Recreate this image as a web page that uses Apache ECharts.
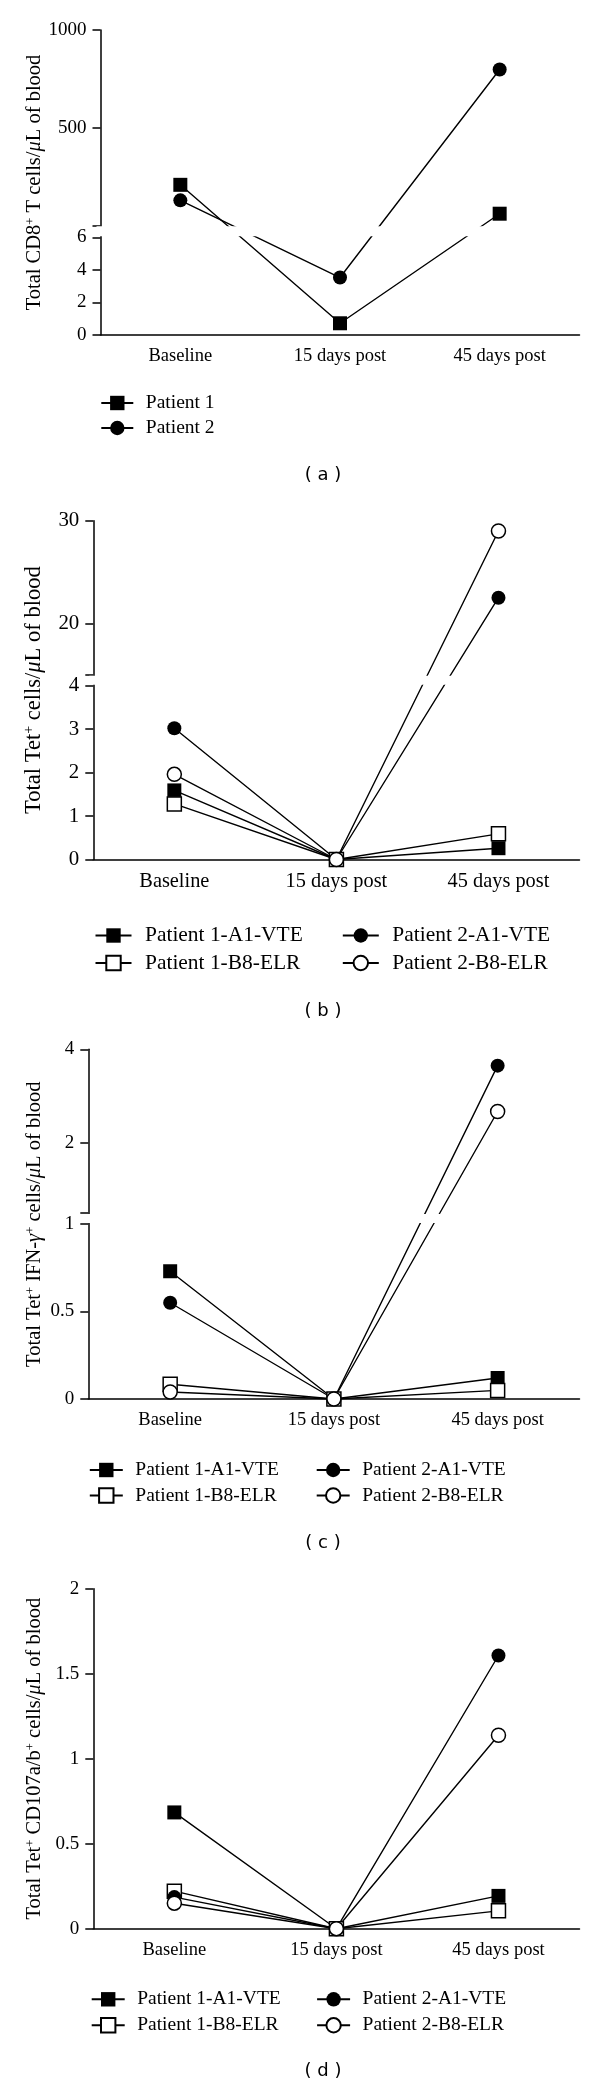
<!DOCTYPE html>
<html><head><meta charset="utf-8">
<script src="https://cdn.jsdelivr.net/npm/echarts@6/dist/echarts.min.js"></script>
<style>html,body{margin:0;padding:0;background:#fff}#c{width:600px;height:2087px}</style>
</head><body><div id="c"></div>
<script>
// ---------- data ----------
const categories = ['Baseline', '15 days post', '45 days post'];

// (a) Total CD8+ T cells/μL of blood
const aPatient1 = [212, 0.72, 65];
const aPatient2 = [133, 3.53, 799];
const aTickValues = [0, 2, 4, 6, 500, 1000];

// (b) Total Tet+ cells/μL of blood
const bP1A1 = [1.59, 0, 0.26];
const bP1B8 = [1.28, 0, 0.59];
const bP2A1 = [3.02, 0, 22.5];
const bP2B8 = [1.96, 0, 29.0];
const bTickValues = [0, 1, 2, 3, 4, 20, 30];

// (c) Total Tet+ IFN-γ+ cells/μL of blood
const cP1A1 = [0.73, 0, 0.12];
const cP1B8 = [0.084, 0, 0.049];
const cP2A1 = [0.55, 0, 3.65];
const cP2B8 = [0.04, 0, 2.67];
const cTickValues = [0, 0.5, 1, 2, 4];

// (d) Total Tet+ CD107a/b+ cells/μL of blood
const dP1A1 = [0.684, 0, 0.193];
const dP1B8 = [0.221, 0, 0.105];
const dP2A1 = [0.186, 0, 1.607];
const dP2B8 = [0.15, 0, 1.138];
const dTickValues = [0, 0.5, 1, 1.5, 2];

const namesAB = ['Patient 1', 'Patient 2'];
const names4 = ['Patient 1-A1-VTE', 'Patient 1-B8-ELR', 'Patient 2-A1-VTE', 'Patient 2-B8-ELR'];

// ---------- layout (axis segments map value ranges onto stretches of the axis) ----------
const RIGHT = 579.5;
const panels = [
  { left: 100.5, top: 30, height: 305, fs: 1,
    segs: [{ from: 0, to: 6, d0: 0, d1: 97.7 }, { from: 6, to: 1000, d0: 109.7, d1: 305 }],
    ticks: aTickValues, nameGap: 55,
    name: '{t|Total CD8}{s|+}{t| T cells/}{i|μ}{t|L of blood}',
    series: [
      { name: namesAB[0], data: aPatient1, symbol: 'rect', open: false },
      { name: namesAB[1], data: aPatient2, symbol: 'circle', open: false }
    ],
    legends: [{ left: 100.3, names: namesAB }], legendTop: 403, legendGap: 25, iconW: 32, textGap: 7.5,
    caption: '( a )', captionY: 475 },
  { left: 93.3, top: 520.7, height: 338.8, fs: 1.1,
    segs: [{ from: 0, to: 4, d0: 0, d1: 173.8 }, { from: 15, to: 30, d0: 184.8, d1: 338.8 }],
    ticks: bTickValues, nameGap: 48,
    name: '{t|Total Tet}{s|+}{t| cells/}{i|μ}{t|L of blood}',
    series: [
      { name: names4[0], data: bP1A1, symbol: 'rect', open: false },
      { name: names4[1], data: bP1B8, symbol: 'rect', open: true },
      { name: names4[2], data: bP2A1, symbol: 'circle', open: false },
      { name: names4[3], data: bP2B8, symbol: 'circle', open: true }
    ],
    legends: [{ left: 94.5, names: [names4[0], names4[1]] }, { left: 341.8, names: [names4[2], names4[3]] }],
    legendTop: 935.5, legendGap: 27.5, iconW: 36, textGap: 8.5, caption: '( b )', captionY: 1011.7 },
  { left: 88.3, top: 1049.3, height: 349.7, fs: 1,
    segs: [{ from: 0, to: 1, d0: 0, d1: 175 }, { from: 0.5, to: 4, d0: 186, d1: 349.7 }],
    ticks: cTickValues, nameGap: 43,
    name: '{t|Total Tet}{s|+}{t| IFN-}{i|γ}{s|+}{t| cells/}{i|μ}{t|L of blood}',
    series: [
      { name: names4[0], data: cP1A1, symbol: 'rect', open: false },
      { name: names4[1], data: cP1B8, symbol: 'rect', open: true },
      { name: names4[2], data: cP2A1, symbol: 'circle', open: false },
      { name: names4[3], data: cP2B8, symbol: 'circle', open: true }
    ],
    legends: [{ left: 88.8, names: [names4[0], names4[1]] }, { left: 315.7, names: [names4[2], names4[3]] }],
    legendTop: 1470, legendGap: 25.5, iconW: 33, textGap: 7.5, caption: '( c )', captionY: 1543 },
  { left: 93.3, top: 1588.7, height: 340, fs: 1,
    segs: [{ from: 0, to: 2, d0: 0, d1: 340 }],
    ticks: dTickValues, nameGap: 48,
    name: '{t|Total Tet}{s|+}{t| CD107a/b}{s|+}{t| cells/}{i|μ}{t|L of blood}',
    series: [
      { name: names4[0], data: dP1A1, symbol: 'rect', open: false },
      { name: names4[1], data: dP1B8, symbol: 'rect', open: true },
      { name: names4[2], data: dP2A1, symbol: 'circle', open: false },
      { name: names4[3], data: dP2B8, symbol: 'circle', open: true }
    ],
    legends: [{ left: 90.7, names: [names4[0], names4[1]] }, { left: 316.1, names: [names4[2], names4[3]] }],
    legendTop: 1999.3, legendGap: 26, iconW: 33, textGap: 7.5, caption: '( d )', captionY: 2071.7 }
];

function toDisp(p, v) {
  const s = (p.segs.length === 1 || v <= p.segs[0].to) ? p.segs[0] : p.segs[1];
  return s.d0 + (v - s.from) / (s.to - s.from) * (s.d1 - s.d0);
}

const SERIF = '"Liberation Serif", "Times New Roman", serif';
const grids = [], xAxes = [], yAxes = [], series = [], legends = [], graphics = [];

panels.forEach((p, i) => {
  const fs = p.fs;
  const titleSize = 20.5 * fs, tickSize = 19 * fs, catSize = 18.5 * fs, legSize = 19.5 * fs;
  grids.push({ left: p.left, top: p.top, width: RIGHT - p.left, height: p.height, containLabel: false });
  xAxes.push({
    type: 'category', gridIndex: i, data: categories, boundaryGap: true,
    axisLine: { lineStyle: { color: '#000', width: 1.5 } },
    axisTick: { alignWithLabel: true, length: 8, lineStyle: { color: '#000', width: 1.5 } },
    axisLabel: { color: '#000', fontFamily: SERIF, fontSize: catSize, margin: 12 },
    splitLine: { show: false }
  });
  const labelMap = p.ticks.map(v => ({ d: toDisp(p, v), v }));
  const tickDisp = labelMap.map(o => o.d);
  if (p.segs.length > 1) tickDisp.push(p.segs[1].d0);
  yAxes.push({
    type: 'value', gridIndex: i, min: 0, max: p.height,
    name: p.name, nameLocation: 'middle', nameRotate: 90, nameGap: p.nameGap, nameMoveOverlap: false,
    nameTextStyle: {
      color: '#000', fontFamily: SERIF, fontSize: titleSize,
      rich: {
        t: { fontFamily: SERIF, fontSize: titleSize, color: '#000' },
        s: { fontFamily: SERIF, fontSize: titleSize * 0.62, color: '#000', verticalAlign: 'top', lineHeight: titleSize * 0.62 },
        i: { fontFamily: SERIF, fontSize: titleSize, color: '#000', fontStyle: 'italic' }
      }
    },
    axisLine: { show: true, lineStyle: { color: '#000', width: 1.5 } },
    axisTick: { show: true, length: 8, customValues: tickDisp, lineStyle: { color: '#000', width: 1.5 } },
    axisLabel: {
      color: '#000', fontFamily: SERIF, fontSize: tickSize, margin: 14,
      customValues: labelMap.map(o => o.d),
      formatter: val => {
        const hit = labelMap.find(o => Math.abs(o.d - val) < 1e-6);
        return hit ? String(hit.v) : '';
      }
    },
    splitLine: { show: false }
  });
  p.series.forEach(s => {
    series.push({
      type: 'line', name: s.name, xAxisIndex: i, yAxisIndex: i, clip: false,
      data: s.data.map(v => toDisp(p, v)),
      symbol: s.symbol, symbolSize: 14, z: 2,
      lineStyle: { color: '#000', width: 1.4 },
      itemStyle: { color: s.open ? '#fff' : '#000', borderColor: '#000', borderWidth: s.open ? 1.5 : 0 },
      emphasis: { disabled: true }, animation: false
    });
  });
  if (p.segs.length > 1) {
    series.push({
      type: 'custom', name: 'break' + i, xAxisIndex: i, yAxisIndex: i, z: 5, silent: true, clip: false,
      data: [[0, p.segs[0].d1, p.segs[1].d0]],
      renderItem: (params, api) => {
        const cs = params.coordSys;
        const yTop = api.coord([0, api.value(2)])[1];
        const yBot = api.coord([0, api.value(1)])[1];
        return { type: 'rect', shape: { x: cs.x - 4, y: yTop + 1, width: cs.width + 8, height: yBot - yTop - 2 },
                 style: { fill: '#fff' } };
      },
      animation: false
    });
  }
  const itemH = 18;
  p.legends.forEach(l => {
    legends.push({
      orient: 'vertical', left: l.left, top: p.legendTop - legSize * 0.55, data: l.names,
      itemWidth: p.iconW, itemHeight: itemH, itemGap: p.legendGap - legSize * 1.1, selectedMode: false,
      padding: 0,
      formatter: name => '{g| }{n|' + name + '}',
      textStyle: {
        color: '#000', fontFamily: SERIF, fontSize: legSize, lineHeight: legSize * 1.1,
        rich: {
          g: { width: p.textGap, fontSize: legSize, lineHeight: legSize * 1.1 },
          n: { color: '#000', fontFamily: SERIF, fontSize: legSize, lineHeight: legSize * 1.1 }
        }
      }
    });
  });
  graphics.push({
    type: 'text', x: 323, y: p.captionY,
    style: { text: p.caption, fill: '#000', fontFamily: '"DejaVu Sans", sans-serif', fontSize: 18,
             align: 'center', verticalAlign: 'middle', textAlign: 'center', textVerticalAlign: 'middle' }
  });
});

const chart = echarts.init(document.getElementById('c'), null, { renderer: 'canvas' });
chart.setOption({
  backgroundColor: '#fff', animation: false,
  grid: grids, xAxis: xAxes, yAxis: yAxes, series: series, legend: legends, graphic: graphics
});
</script></body></html>
